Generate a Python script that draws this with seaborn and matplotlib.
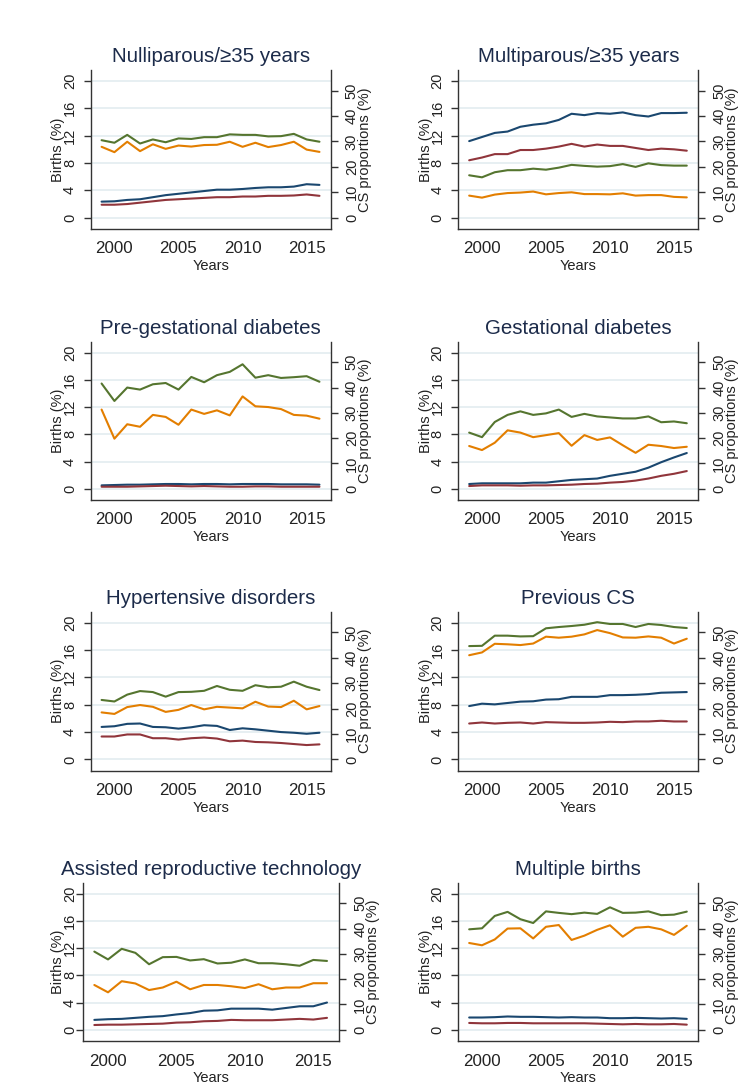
import matplotlib
matplotlib.use('Agg')
import matplotlib.pyplot as plt
import seaborn as sns

years = list(range(1999, 2017))

titles = ['Nulliparous/≥35 years', 'Multiparous/≥35 years',
          'Pre-gestational diabetes', 'Gestational diabetes',
          'Hypertensive disorders', 'Previous CS',
          'Assisted reproductive technology', 'Multiple births']

# left axis, Births (%)
nulli_navy = [2.35, 2.4, 2.6, 2.7, 3.0, 3.3, 3.5, 3.7, 3.9, 4.1, 4.1, 4.2, 4.35, 4.45, 4.45, 4.55, 4.9, 4.8]
nulli_maroon = [1.9, 1.9, 2.0, 2.2, 2.4, 2.6, 2.7, 2.8, 2.9, 3.0, 3.0, 3.1, 3.1, 3.2, 3.2, 3.25, 3.4, 3.2]
multi_navy = [11.2, 11.8, 12.4, 12.6, 13.3, 13.6, 13.8, 14.3, 15.2, 15.0, 15.3, 15.2, 15.4, 15.0, 14.8, 15.3, 15.3, 15.35]
multi_maroon = [8.4, 8.8, 9.3, 9.3, 9.9, 9.9, 10.1, 10.4, 10.8, 10.4, 10.7, 10.5, 10.5, 10.2, 9.9, 10.1, 10.0, 9.8]
pregest_navy = [0.5, 0.55, 0.6, 0.6, 0.65, 0.7, 0.7, 0.65, 0.7, 0.7, 0.65, 0.7, 0.7, 0.7, 0.65, 0.65, 0.65, 0.6]
pregest_maroon = [0.3, 0.3, 0.3, 0.35, 0.4, 0.45, 0.4, 0.35, 0.4, 0.35, 0.3, 0.3, 0.35, 0.35, 0.3, 0.3, 0.3, 0.3]
gest_navy = [0.7, 0.8, 0.8, 0.8, 0.8, 0.9, 0.9, 1.1, 1.3, 1.4, 1.5, 1.9, 2.2, 2.5, 3.1, 3.9, 4.6, 5.25]
gest_maroon = [0.4, 0.5, 0.5, 0.5, 0.45, 0.5, 0.5, 0.55, 0.6, 0.7, 0.75, 0.9, 1.0, 1.2, 1.5, 1.9, 2.2, 2.6]
hyper_navy = [4.75, 4.85, 5.2, 5.25, 4.75, 4.7, 4.5, 4.7, 5.0, 4.9, 4.3, 4.55, 4.4, 4.2, 4.0, 3.9, 3.75, 3.9]
hyper_maroon = [3.35, 3.35, 3.65, 3.65, 3.1, 3.1, 2.9, 3.1, 3.2, 3.05, 2.65, 2.75, 2.55, 2.5, 2.4, 2.25, 2.1, 2.2]
prevcs_navy = [7.8, 8.15, 8.05, 8.25, 8.45, 8.5, 8.75, 8.8, 9.15, 9.15, 9.15, 9.4, 9.4, 9.45, 9.55, 9.75, 9.8, 9.85]
prevcs_maroon = [5.25, 5.4, 5.25, 5.35, 5.4, 5.25, 5.45, 5.4, 5.35, 5.35, 5.4, 5.5, 5.45, 5.55, 5.55, 5.65, 5.55, 5.55]
art_navy = [1.45, 1.55, 1.6, 1.75, 1.9, 2.0, 2.25, 2.45, 2.8, 2.85, 3.1, 3.1, 3.1, 2.95, 3.2, 3.45, 3.45, 4.0]
art_maroon = [0.7, 0.75, 0.75, 0.8, 0.85, 0.9, 1.05, 1.1, 1.25, 1.3, 1.45, 1.4, 1.4, 1.4, 1.5, 1.6, 1.5, 1.75]
mult_navy = [1.8, 1.8, 1.85, 1.95, 1.9, 1.9, 1.85, 1.8, 1.85, 1.8, 1.8, 1.7, 1.7, 1.75, 1.7, 1.65, 1.7, 1.6]
mult_maroon = [1.0, 0.95, 0.95, 1.0, 1.0, 0.95, 0.95, 0.95, 0.95, 0.95, 0.9, 0.85, 0.8, 0.85, 0.8, 0.8, 0.85, 0.75]

# right axis, CS proportions (%)
nulli_green = [30.5, 29.5, 32.6, 29.2, 30.8, 29.7, 31.2, 31.0, 31.7, 31.7, 32.8, 32.6, 32.6, 32.0, 32.1, 33.0, 30.8, 29.9]
nulli_orange = [27.9, 25.8, 29.9, 26.2, 28.9, 27.1, 28.4, 28.0, 28.6, 28.7, 29.9, 27.9, 29.5, 27.8, 28.6, 29.9, 26.8, 25.9]
multi_green = [16.7, 15.9, 17.9, 18.7, 18.7, 19.3, 18.9, 19.7, 20.8, 20.4, 20.1, 20.3, 21.1, 20.0, 21.4, 20.7, 20.5, 20.5]
multi_orange = [8.7, 7.9, 9.1, 9.7, 9.9, 10.3, 9.2, 9.7, 10.0, 9.3, 9.3, 9.2, 9.6, 8.7, 8.9, 8.9, 8.2, 8.0]
pregest_green = [41.6, 34.7, 40.0, 39.2, 41.3, 41.8, 39.2, 44.2, 42.1, 44.9, 46.2, 49.2, 43.9, 44.9, 43.8, 44.1, 44.5, 42.3]
pregest_orange = [31.3, 19.8, 25.5, 24.5, 29.2, 28.4, 25.3, 31.3, 29.6, 31.0, 29.0, 36.5, 32.6, 32.3, 31.5, 29.2, 28.9, 27.7]
gest_green = [22.2, 20.4, 26.4, 29.2, 30.6, 29.2, 29.8, 31.3, 28.4, 29.6, 28.6, 28.2, 27.8, 27.8, 28.6, 26.3, 26.6, 25.9]
gest_orange = [16.9, 15.3, 18.2, 23.1, 22.2, 20.4, 21.2, 22.0, 17.0, 21.2, 19.3, 20.3, 17.2, 14.2, 17.4, 16.9, 16.1, 16.6]
hyper_green = [23.4, 22.8, 25.5, 26.9, 26.5, 24.7, 26.5, 26.6, 27.0, 28.9, 27.4, 27.0, 29.2, 28.4, 28.6, 30.6, 28.6, 27.3]
hyper_orange = [18.5, 17.9, 20.6, 21.4, 20.7, 18.7, 19.5, 21.4, 19.7, 20.7, 20.4, 20.1, 22.7, 20.8, 20.6, 23.1, 19.7, 21.0]
prevcs_green = [44.6, 44.7, 48.7, 48.7, 48.4, 48.5, 51.6, 52.1, 52.5, 53.0, 54.0, 53.3, 53.3, 52.1, 53.3, 52.9, 52.1, 51.7]
prevcs_orange = [41.0, 42.1, 45.5, 45.3, 45.0, 45.6, 48.3, 47.9, 48.3, 49.2, 50.9, 49.7, 48.0, 47.9, 48.4, 47.9, 45.6, 47.5]
art_green = [30.9, 27.8, 32.0, 30.4, 25.9, 28.7, 28.8, 27.4, 27.9, 26.2, 26.5, 27.8, 26.3, 26.3, 25.9, 25.3, 27.6, 27.2]
art_orange = [17.7, 14.8, 19.2, 18.3, 15.7, 16.7, 19.0, 16.0, 17.7, 17.7, 17.2, 16.5, 18.0, 16.0, 16.7, 16.7, 18.4, 18.4]
mult_green = [39.7, 40.1, 45.0, 46.6, 43.7, 42.2, 46.8, 46.2, 45.7, 46.3, 45.8, 48.4, 46.2, 46.3, 46.8, 45.3, 45.5, 46.7]
mult_orange = [34.3, 33.4, 35.7, 40.0, 40.1, 36.1, 40.7, 41.4, 35.5, 37.2, 39.5, 41.3, 36.8, 40.3, 40.7, 39.7, 37.5, 41.1]

left_series = [(nulli_navy, nulli_maroon), (multi_navy, multi_maroon),
               (pregest_navy, pregest_maroon), (gest_navy, gest_maroon),
               (hyper_navy, hyper_maroon), (prevcs_navy, prevcs_maroon),
               (art_navy, art_maroon), (mult_navy, mult_maroon)]
right_series = [(nulli_green, nulli_orange), (multi_green, multi_orange),
                (pregest_green, pregest_orange), (gest_green, gest_orange),
                (hyper_green, hyper_orange), (prevcs_green, prevcs_orange),
                (art_green, art_orange), (mult_green, mult_orange)]

navy, maroon, green, orange = '#1a476f', '#90353b', '#55752f', '#e37e00'
ink = '#222222'
title_col = '#1c2b4a'

sns.set_style('white')
plt.rcParams['font.family'] = ['Liberation Sans', 'DejaVu Sans']

W, H = 739, 1089
fig = plt.figure(figsize=(W / 100, H / 100), dpi=100)

# plot boxes in pixels: left, top, right, bottom
boxes = [(90.7, 70, 331, 229), (458.3, 70, 698.3, 229),
         (90.7, 341.7, 331, 500), (458.3, 341.7, 698.3, 500),
         (90.7, 611.7, 331, 770.7), (458.3, 611.7, 698.3, 770.7),
         (82.7, 882.7, 339.3, 1041), (458.3, 882.7, 698.3, 1041)]

for i, title in enumerate(titles):
    x0, y0, x1, y1 = boxes[i]
    w = x1 - x0
    ax = fig.add_axes([x0 / W, 1 - y1 / H, w / W, (y1 - y0) / H])
    ax2 = ax.twinx()

    for yy in [0, 4, 8, 12, 16, 20]:
        ax.axhline(yy, color='#e3ecf0', lw=1.2, zorder=0)

    a, b = left_series[i]
    c, d = right_series[i]
    sns.lineplot(x=years, y=a, ax=ax, color=navy, lw=1.5)
    sns.lineplot(x=years, y=b, ax=ax, color=maroon, lw=1.5)
    sns.lineplot(x=years, y=c, ax=ax2, color=green, lw=1.5)
    sns.lineplot(x=years, y=d, ax=ax2, color=orange, lw=1.5)

    ax.set_xlim(1998.15, 2016.9)
    ax.set_ylim(-1.65, 21.6)
    ax2.set_ylim(-4.44, 58.13)
    ax.set_xticks([2000, 2005, 2010, 2015])
    ax.set_yticks([0, 4, 8, 12, 16, 20])
    ax2.set_yticks([0, 10, 20, 30, 40, 50])

    for s in ['top', 'right']:
        ax.spines[s].set_visible(False)
    for s in ['top', 'left', 'bottom']:
        ax2.spines[s].set_visible(False)
    for sp in [ax.spines['left'], ax.spines['bottom'], ax2.spines['right']]:
        sp.set_color('#333333')
        sp.set_linewidth(1.0)

    lpad = (x0 - 7 - 77) * 0.72 if i % 2 == 0 else 4.8
    ax.tick_params(axis='x', length=4.5, width=1, color='#333333', labelsize=12.2,
                   labelcolor=ink, pad=4.5)
    ax.tick_params(axis='y', length=5, width=1, color='#333333', labelsize=10.5,
                   labelcolor=ink, pad=lpad, labelrotation=90)
    ax2.tick_params(axis='y', length=5, width=1, color='#333333', labelsize=10.5,
                    labelcolor=ink, pad=5, labelrotation=90)
    plt.setp(ax.get_yticklabels(), va='center')
    plt.setp(ax2.get_yticklabels(), va='center')

    ax.set_title(title, fontsize=14.8, color=title_col, pad=5.5)
    ax.set_xlabel('Years', fontsize=10.5, color=ink, labelpad=2)
    ax.set_ylabel('Births (%)', fontsize=10.5, color=ink)
    ax2.set_ylabel('CS proportions (%)', fontsize=10.5, color=ink)
    left_anchor = 65 if i % 2 == 0 else 432.6
    ax.yaxis.set_label_coords((left_anchor - x0) / w, 0.5)
    ax2.yaxis.set_label_coords(1 + 26.5 / w, 0.5)

fig.savefig('out.png', dpi=100, facecolor='white')
